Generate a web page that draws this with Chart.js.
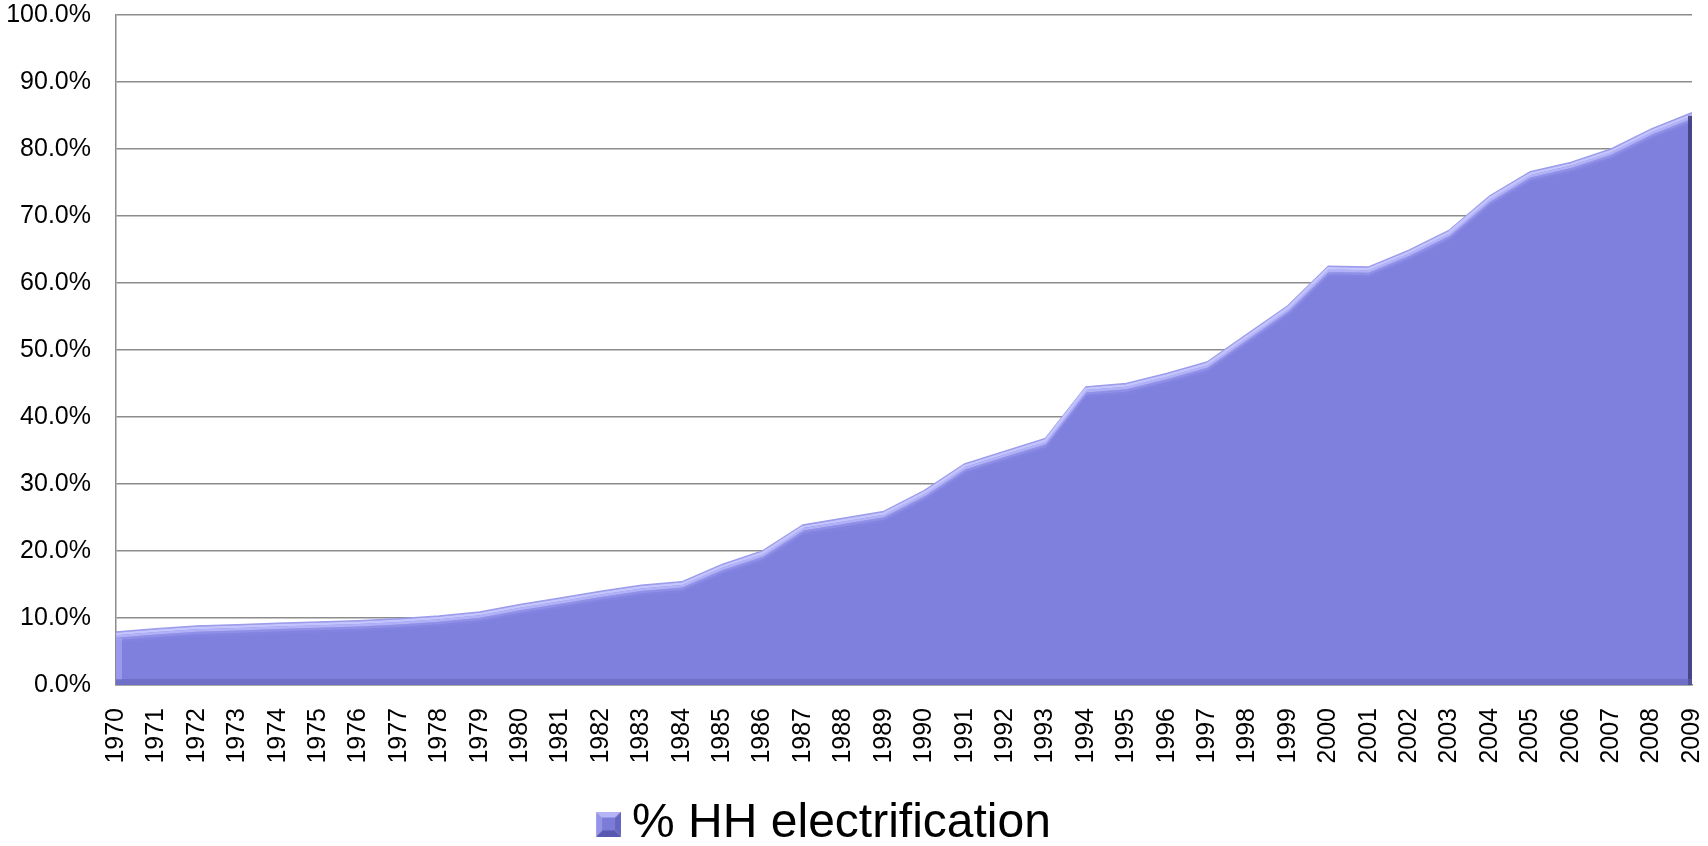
<!DOCTYPE html>
<html>
<head>
<meta charset="utf-8">
<script src="https://cdn.jsdelivr.net/npm/chart.js@4.4.1/dist/chart.umd.min.js"></script>
<style>
    html, body { margin: 0; padding: 0; background: #fff; }
</style>
</head>
<body>
<canvas id="hh-chart" width="1708" height="846"></canvas>
<script>
const years = ['1970', '1971', '1972', '1973', '1974', '1975', '1976', '1977', '1978', '1979',
    '1980', '1981', '1982', '1983', '1984', '1985', '1986', '1987', '1988', '1989',
    '1990', '1991', '1992', '1993', '1994', '1995', '1996', '1997', '1998', '1999',
    '2000', '2001', '2002', '2003', '2004', '2005', '2006', '2007', '2008', '2009'];

// % of households electrified
const electrification = [7.9, 8.4, 8.8, 9.0, 9.2, 9.4, 9.6, 9.9, 10.3, 10.9,
    12.0, 13.0, 14.0, 14.9, 15.4, 18.0, 20.0, 23.9, 24.9, 25.9,
    29.0, 33.0, 34.9, 36.8, 44.5, 45.0, 46.5, 48.2, 52.4, 56.6,
    62.5, 62.4, 64.9, 67.9, 73.0, 76.6, 78.0, 80.0, 83.0, 85.4];

const yTicks = [0, 10, 20, 30, 40, 50, 60, 70, 80, 90, 100];

const fontFamily = '"Liberation Sans", Arial, sans-serif';

// bevelled square for the legend (drawn in the right half so it sits close to the text)
const legendIcon = () => {
    const c = document.createElement('canvas');
    c.width = 51;
    c.height = 25;
    const g = c.getContext('2d');
    const s = 25, b = 6;
    g.translate(26, 0);
    const quad = (pts, col) => {
        g.beginPath();
        pts.forEach((p, i) => i ? g.lineTo(p[0], p[1]) : g.moveTo(p[0], p[1]));
        g.closePath();
        g.fillStyle = col;
        g.fill();
    };
    quad([[0, 0], [s, 0], [s - b, b], [b, b]], '#b4b4f6');
    quad([[0, 0], [b, b], [b, s - b], [0, s]], '#9494e8');
    quad([[s, 0], [s, s], [s - b, s - b], [s - b, b]], '#6565c2');
    quad([[0, s], [b, s - b], [s - b, s - b], [s, s]], '#5858b0');
    g.fillStyle = '#7c7cd8';
    g.fillRect(b, b, s - 2 * b, s - 2 * b);
    return c;
};

// light band under the top edge, gives the bevelled look
const bevelPlugin = {
    id: 'bevel',
    afterLayout(chart) {
        // legend in the original sits a bit left of centre and lower
        const lg = chart.legend;
        lg.left -= 29;
        lg.right -= 29;
        lg.top += 12;
        lg.bottom += 12;
    },
    afterDatasetsDraw(chart) {
        const pts = chart.getDatasetMeta(0).data;
        const area = chart.chartArea;
        const ctx = chart.ctx;
        const first = pts[0];
        const last = pts[pts.length - 1];
        ctx.save();
        ctx.beginPath();
        ctx.rect(area.left, area.top, area.right - area.left, area.bottom - area.top);
        ctx.clip();
        ctx.lineJoin = 'round';

        const bands = [
            [2, 'rgba(200, 200, 255, 0.95)'],
            [4.5, 'rgba(190, 190, 252, 0.8)'],
            [7, 'rgba(165, 165, 244, 0.45)'],
            [9.5, 'rgba(145, 145, 235, 0.2)']
        ];
        bands.forEach(([dy, col]) => {
            ctx.beginPath();
            pts.forEach((p, i) => i ? ctx.lineTo(p.x, p.y + dy) : ctx.moveTo(p.x, p.y + dy));
            ctx.strokeStyle = col;
            ctx.lineWidth = 2.5;
            ctx.stroke();
        });

        // left edge lighter, right and bottom edges darker
        ctx.beginPath();
        ctx.moveTo(first.x + 3, first.y + 6);
        ctx.lineTo(first.x + 3, area.bottom - 5);
        ctx.strokeStyle = 'rgba(170, 170, 248, 0.6)';
        ctx.lineWidth = 6;
        ctx.stroke();

        ctx.beginPath();
        ctx.moveTo(last.x - 2, last.y + 3);
        ctx.lineTo(last.x - 2, area.bottom);
        ctx.strokeStyle = 'rgba(60, 60, 120, 0.85)';
        ctx.lineWidth = 4;
        ctx.stroke();

        ctx.beginPath();
        ctx.moveTo(first.x, area.bottom - 3);
        ctx.lineTo(last.x, area.bottom - 3);
        ctx.strokeStyle = 'rgba(95, 95, 175, 0.5)';
        ctx.lineWidth = 6;
        ctx.stroke();
        ctx.restore();
    }
};

const drawElectrificationChart = () => {
    return new Chart(document.getElementById('hh-chart').getContext('2d'), {
        type: 'line',
        data: {
            labels: years,
            datasets: [{
                label: '% HH electrification',
                data: electrification,
                fill: 'origin',
                backgroundColor: '#7f7fde',
                borderColor: '#9c9cec',
                borderWidth: 1.5,
                pointRadius: 0,
                pointStyle: legendIcon(),
                tension: 0
            }]
        },
        options: {
            responsive: false,
            animation: false,
            devicePixelRatio: 1,
            layout: {
                padding: { left: 0, right: 16, top: 15, bottom: 0 }
            },
            scales: {
                x: {
                    offset: false,
                    grid: { display: false },
                    border: { display: true, color: '#8c8c8c', width: 1.5 },
                    ticks: {
                        autoSkip: false,
                        minRotation: 90,
                        maxRotation: 90,
                        padding: 15,
                        color: '#000',
                        font: { family: fontFamily, size: 25 }
                    },
                    afterFit: (scale) => {
                        scale.height = 95;
                        scale.paddingLeft = 0;
                        scale.paddingRight = 0;
                    }
                },
                y: {
                    min: 0,
                    max: 100,
                    afterBuildTicks: (scale) => {
                        scale.ticks = yTicks.map(v => ({ value: v }));
                    },
                    grid: { color: '#8c8c8c', lineWidth: 1.5, drawTicks: false },
                    border: { display: true, color: '#8c8c8c', width: 1.5 },
                    ticks: {
                        padding: 25,
                        color: '#000',
                        font: { family: fontFamily, size: 25 },
                        callback: (v) => v.toFixed(1) + '%'
                    },
                    afterFit: (scale) => {
                        scale.width = 116;
                        scale.paddingTop = 0;
                        scale.paddingBottom = 0;
                    }
                }
            },
            plugins: {
                legend: {
                    position: 'bottom',
                    labels: {
                        color: '#000',
                        usePointStyle: true,
                        boxWidth: 25,
                        boxHeight: 25,
                        padding: 8,
                        font: { family: fontFamily, size: 48 }
                    }
                },
                tooltip: { enabled: false }
            }
        },
        plugins: [bevelPlugin]
    });
};

let electrificationChart = drawElectrificationChart();
</script>
</body>
</html>
